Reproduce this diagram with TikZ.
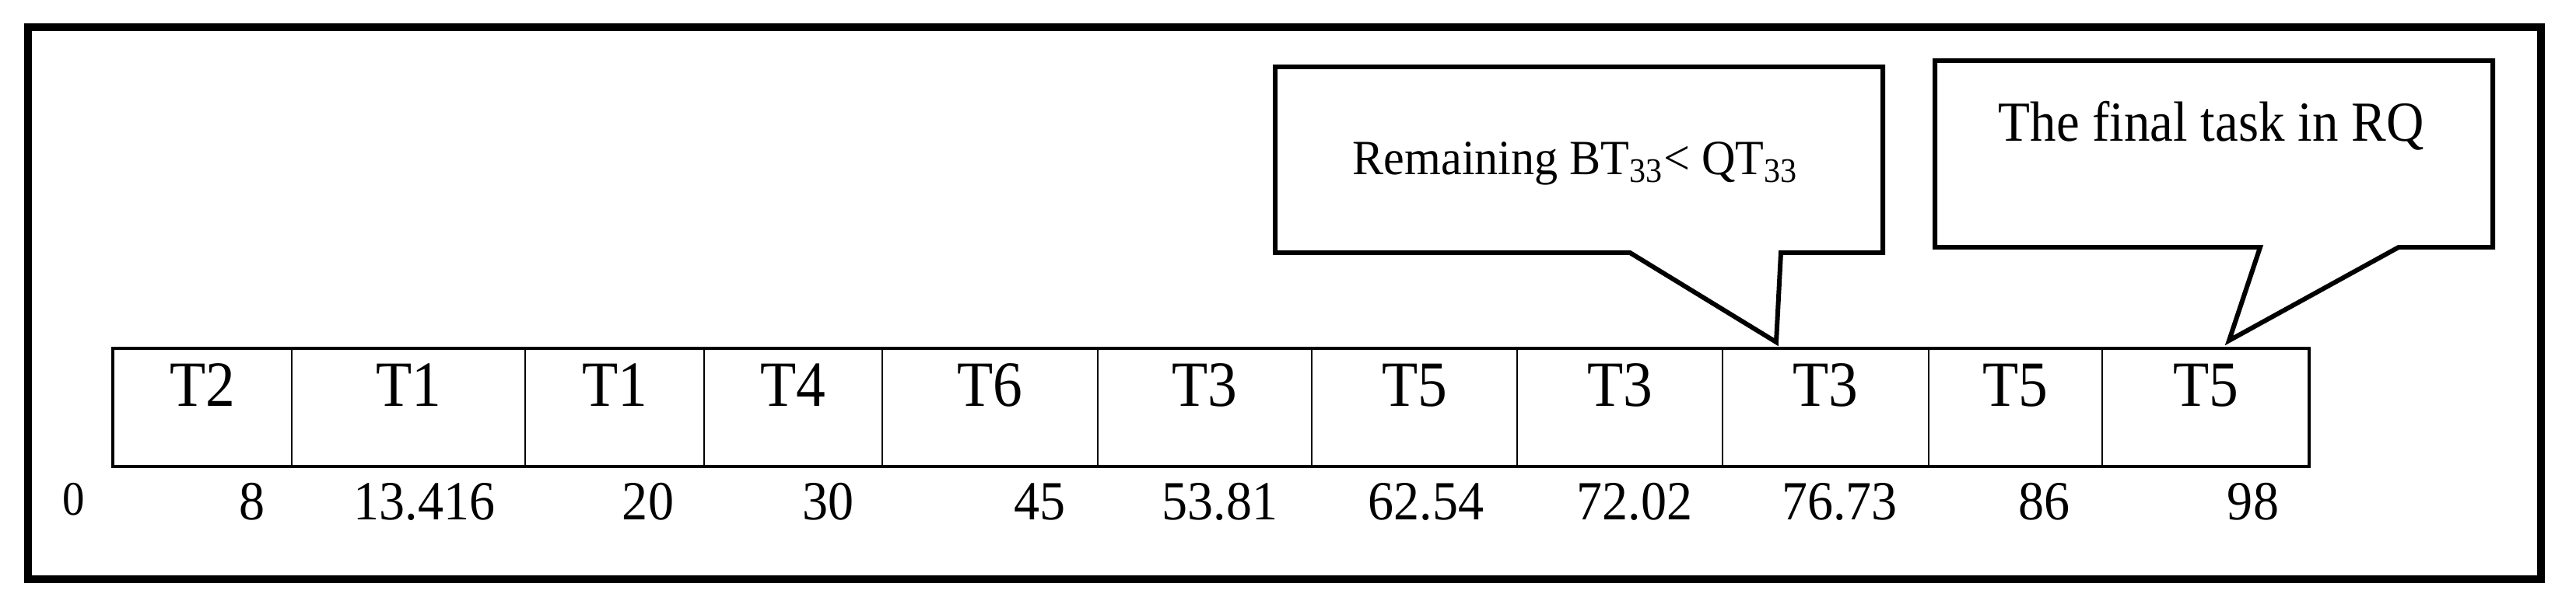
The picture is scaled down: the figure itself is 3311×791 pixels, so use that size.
\documentclass[tikz,border=0pt]{standalone}
\usepackage{fontspec}
\setmainfont{Liberation Serif}
\newcommand\sqz[2]{\scalebox{#1}[1]{#2}}
\tikzset{
  frame/.style={line width=2.65pt},
  rowbox/.style={line width=0.95pt},
  divider/.style={line width=0.75pt},
  callout/.style={line width=1.7pt, line join=miter, fill=white},
  tlabel/.style={anchor=base, inner sep=0pt, font=\fontsize{23.6}{28}\selectfont},
  tnum/.style={anchor=base, inner sep=0pt, font=\fontsize{20.2}{24}\selectfont},
  ctext/.style={anchor=base, inner sep=0pt},
}
\begin{document}
\begin{tikzpicture}[x=0.01cm,y=-0.01cm]
\useasboundingbox (0,0) rectangle (3311,791);
\draw[frame] (36,35) rectangle (3266,745);

% task row
\coordinate (rowTL) at (145,448);
\coordinate (rowBR) at (2968,600);
\foreach \x in {375,675,905,1134,1411,1686,1950,2214,2479,2702}
  \draw[divider] (\x,448) -- (\x,600);
\draw[rowbox] (rowTL) rectangle (rowBR);

% task labels
\foreach \cx/\t/\n in {260/T2/a,525/T1/b,790/T1/c,1019.5/T4/d,1272.5/T6/e,1548.5/T3/f,1818/T5/g,2082/T3/h,2346.5/T3/i,2590.5/T5/j,2835/T5/k}
  \node[tlabel] (lab\n) at (\cx,522) {\sqz{0.91}{\t}};

% time stamps
\node[anchor=base, inner sep=0pt, font=\fontsize{17.6}{21}\selectfont] (n0) at (95,662) {\sqz{0.92}{0}};
\foreach \cx/\v/\n in {324.5/8/a,545.5/13.416/b,833/20/c,1064.6/30/d,1336.7/45/e,1568/53.81/f,1833/62.54/g,2101/72.02/h,2364.6/76.73/i,2627.8/86/j,2896/98/k}
  \node[tnum] (num\n) at (\cx,668) {\sqz{0.93}{\v}};

% callout 1
\coordinate (tipA) at (2283,440);
\draw[callout] (1639,86) -- (2420,86) -- (2420,325) -- (2289,325) -- (tipA) -- (2095,325) -- (1639,325) -- cycle;
\node[ctext, font=\fontsize{18}{22}\selectfont] (remain) at (2025,225)
  {\sqz{0.95}{Remaining BT\textsubscript{33}< QT\textsubscript{33}}};

% callout 2
\coordinate (tipB) at (2865,438);
\draw[callout] (2487,78) -- (3204,78) -- (3204,318) -- (3083,318) -- (tipB) -- (2905,318) -- (2487,318) -- cycle;
\node[ctext, font=\fontsize{20.7}{25}\selectfont] (final) at (2842,182)
  {\sqz{0.92}{The final task in RQ}};
\end{tikzpicture}
\end{document}
